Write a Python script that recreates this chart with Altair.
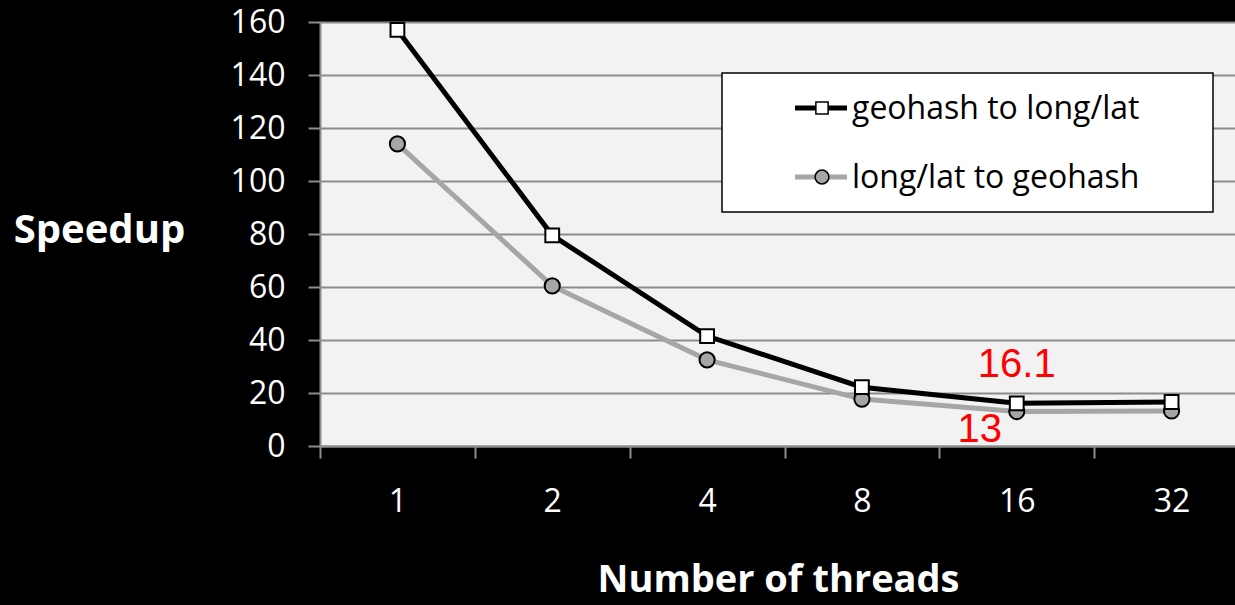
import altair as alt
import pandas as pd

threads = ["1", "2", "4", "8", "16", "32"]
geo_to_ll = [157, 79.5, 41.5, 22.2, 16.1, 16.6]
ll_to_geo = [114, 60.4, 32.5, 17.7, 13.0, 13.2]
series_names = ["geohash to long/lat", "long/lat to geohash"]
y_ticks = [0, 20, 40, 60, 80, 100, 120, 140, 160]

df1 = pd.DataFrame({"threads": threads, "speedup": geo_to_ll})
df2 = pd.DataFrame({"threads": threads, "speedup": ll_to_geo})

FONT = "Open Sans"
W, H = 915, 424

xenc = alt.X("threads:O", sort=threads,
             scale=alt.Scale(type="band", paddingInner=0, paddingOuter=0, range=[0, 929]),
             axis=alt.Axis(title="Number of threads", tickBand="extent",
                           labelAngle=0, labelColor="white", labelFont=FONT,
                           labelFontSize=32, labelPadding=43, labelBaseline="middle",
                           tickColor="#8c8c8c", tickSize=12, tickWidth=2,
                           domainColor="#8c8c8c", domainWidth=2,
                           titleColor="white", titleFont=FONT, titleFontSize=38,
                           titleFontWeight="bold", titleX=458, titleY=134,
                           titleBaseline="middle",
                           titleAnchor="middle", grid=False))
yenc = alt.Y("speedup:Q",
             scale=alt.Scale(domain=[0, 160], nice=False, zero=True),
             axis=alt.Axis(title="Speedup", values=y_ticks, labelColor="white",
                           labelFont=FONT, labelFontSize=32, labelPadding=23,
                           tickColor="#8c8c8c", tickSize=12, tickWidth=2,
                           domainColor="#8c8c8c", domainWidth=2,
                           gridColor="#8c8c8c", gridWidth=2,
                           titleColor="white", titleFont=FONT, titleFontSize=40,
                           titleFontWeight="bold", titleAngle=0, titleAlign="center",
                           titleBaseline="middle", titleX=-221, titleY=208))

line1 = alt.Chart(df1).mark_line(color="black", strokeWidth=5).encode(x=xenc, y=yenc)
pts1 = alt.Chart(df1).mark_point(shape="square", filled=True, fill="white",
                                 stroke="black", strokeWidth=2, size=190,
                                 opacity=1).encode(x=xenc, y=yenc)
line2 = alt.Chart(df2).mark_line(color="#a6a6a6", strokeWidth=5).encode(x=xenc, y=yenc)
pts2 = alt.Chart(df2).mark_point(shape="circle", filled=True, fill="#a6a6a6",
                                 stroke="black", strokeWidth=2, size=230,
                                 opacity=1).encode(x=xenc, y=yenc)

ann1 = alt.Chart(df1[df1.threads == "16"]).mark_text(
    text="16.1", color="red", font="Liberation Sans", fontSize=40,
    dy=-38, baseline="middle", align="center").encode(x=xenc, y=yenc)
ann2 = alt.Chart(df2[df2.threads == "16"]).mark_text(
    text="13", color="red", font="Liberation Sans", fontSize=40,
    dx=-37, dy=18, baseline="middle", align="center").encode(x=xenc, y=yenc)

# manual legend
one = pd.DataFrame({"a": [0]})
box = alt.Chart(one).mark_rect(fill="white", stroke="black", strokeWidth=1.5).encode(
    x=alt.value(402), x2=alt.value(893), y=alt.value(51), y2=alt.value(190))
lg_l1 = alt.Chart(one).mark_rule(color="black", strokeWidth=5).encode(
    x=alt.value(475), x2=alt.value(527), y=alt.value(86))
lg_p1 = alt.Chart(one).mark_point(shape="square", filled=True, fill="white",
                                  stroke="black", strokeWidth=1.5, size=150,
                                  opacity=1).encode(x=alt.value(502), y=alt.value(86))
lg_t1 = alt.Chart(one).mark_text(text=series_names[0], color="black", font=FONT,
                                 fontSize=32, align="left", baseline="middle").encode(
    x=alt.value(532), y=alt.value(87))
lg_l2 = alt.Chart(one).mark_rule(color="#a6a6a6", strokeWidth=5).encode(
    x=alt.value(475), x2=alt.value(527), y=alt.value(155))
lg_p2 = alt.Chart(one).mark_point(shape="circle", filled=True, fill="#a6a6a6",
                                  stroke="black", strokeWidth=1.5, size=190,
                                  opacity=1).encode(x=alt.value(502), y=alt.value(155))
lg_t2 = alt.Chart(one).mark_text(text=series_names[1], color="black", font=FONT,
                                 fontSize=32, align="left", baseline="middle").encode(
    x=alt.value(532), y=alt.value(156))

chart = alt.layer(line2, line1, pts2, pts1, ann1, ann2,
                  box, lg_l1, lg_p1, lg_t1, lg_l2, lg_p2, lg_t2).properties(
    width=W, height=H,
    autosize=alt.AutoSizeParams(type="none"),
    padding={"left": 320, "top": 22, "right": 0, "bottom": 159},
    background="black",
).configure_view(fill="#f2f2f2", stroke=None)

chart.save("out.html", embed_options={"renderer": "svg", "actions": False})
